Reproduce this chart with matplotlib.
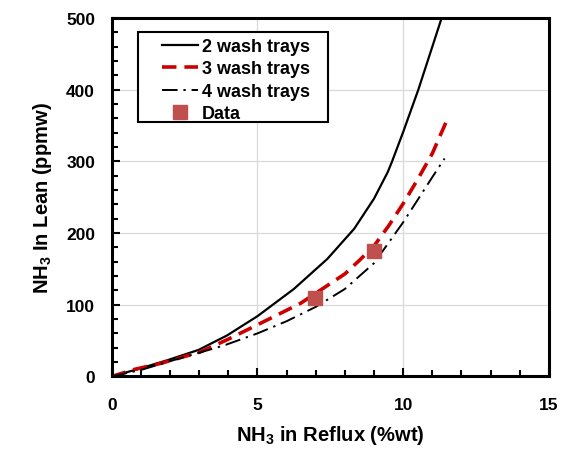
import matplotlib
matplotlib.use("Agg")
import matplotlib.pyplot as plt
from matplotlib.ticker import MultipleLocator
from matplotlib.patches import Rectangle

plt.rcParams['font.family'] = ['Liberation Sans', 'DejaVu Sans']
plt.rcParams['font.weight'] = 'bold'
plt.rcParams['mathtext.fontset'] = 'custom'
plt.rcParams['mathtext.rm'] = 'Liberation Sans:bold'
plt.rcParams['mathtext.bf'] = 'Liberation Sans:bold'
plt.rcParams['mathtext.it'] = 'Liberation Sans:bold'

# Data
x2 = [0, 0.97, 1.94, 2.98, 3.95, 5.0, 6.25, 7.4, 8.32, 9.0, 9.47, 9.62, 10.0, 10.52, 11.32]
y2 = [0, 11, 23, 37, 57, 84, 122, 164, 206, 248, 285, 300, 341, 400, 500]
x3 = [0, 0.8, 1.66, 3.03, 3.95, 5.0, 6.48, 8.0, 8.5, 9.0, 9.5, 10.0, 10.5, 11.0, 11.55]
y3 = [0, 10, 18, 34, 51, 72, 102, 143, 162, 182, 210, 241, 275, 311, 362]
x4 = [0, 1.0, 2.23, 3.84, 5.0, 6.0, 7.0, 8.0, 9.0, 10.0, 11.0, 11.42]
y4 = [0, 9, 24, 43, 60, 77, 97, 122, 158, 215, 278, 304]
data_x = [6.97, 9.0]
data_y = [110, 175]

fig = plt.figure(figsize=(5.7, 4.52), dpi=100)
ax = fig.add_axes([0.196, 0.165, 0.767, 0.793])

ax.plot(x2, y2, color='black', lw=1.6, label='2 wash trays')
ax.plot(x3, y3, color='#cc0000', lw=2.6, linestyle=(0, (4, 2.2)), label='3 wash trays')
ax.plot(x4, y4, color='black', lw=1.4, linestyle=(0, (8, 3, 1.2, 3)), label='4 wash trays')
ax.plot(data_x, data_y, linestyle='none', marker='s', markersize=10,
        color='#c0504d', label='Data', zorder=5)

ax.set_xlim(0, 15)
ax.set_ylim(0, 500)
ax.xaxis.set_major_locator(MultipleLocator(5))
ax.xaxis.set_minor_locator(MultipleLocator(1))
ax.yaxis.set_major_locator(MultipleLocator(100))
ax.yaxis.set_minor_locator(MultipleLocator(20))
ax.tick_params(which='both', direction='in', width=1.5, labelsize=12.5)
ax.tick_params(axis='x', which='both', pad=15)
ax.tick_params(axis='y', which='both', pad=12)
ax.tick_params(which='major', length=6)
ax.tick_params(which='minor', length=4)
ax.grid(True, which='major', color='#d9d9d9', lw=0.9)
ax.set_axisbelow(True)
for s in ax.spines.values():
    s.set_linewidth(2.2)

ax.set_xlabel(r'NH$_\mathbf{3}$ in Reflux (%wt)', fontsize=14.5, fontweight='bold', labelpad=8)
ax.set_ylabel(r'NH$_\mathbf{3}$ In Lean (ppmw)', fontsize=14.5, fontweight='bold', labelpad=9)

# legend frame drawn as a box, legend entries placed inside it
ax.add_patch(Rectangle((0.0595, 0.71), 0.4345, 0.251, transform=ax.transAxes,
                       facecolor='white', edgecolor='black', lw=1.5, zorder=6))
leg = ax.legend(loc='upper left', bbox_to_anchor=(0.115, 0.944), borderaxespad=0,
                fontsize=13, frameon=False, handlelength=2.0, borderpad=0,
                labelspacing=0.3, handletextpad=0.2)
leg.set_zorder(7)

fig.savefig('out.png', dpi=100)
